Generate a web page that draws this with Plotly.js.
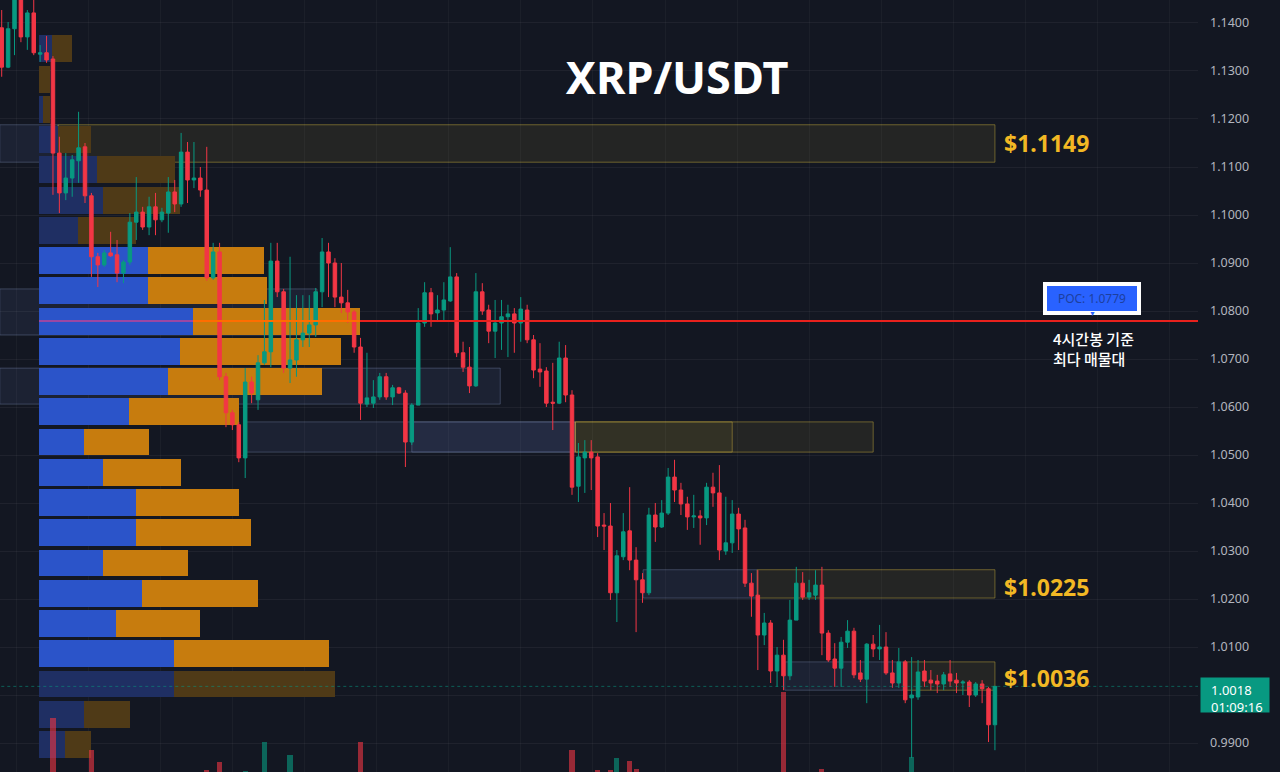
<!DOCTYPE html>
<html><head><meta charset="utf-8">
<script src="https://cdn.plot.ly/plotly-3.0.1.min.js"></script>
<style>html,body{margin:0;padding:0;background:#131722;}#chart{width:1280px;height:772px;}</style>
</head><body><div id="chart"></div>
<script>
// ---- Candles (4H) ----
const opens=[1.1390,1.1308,1.1388,1.1452,1.1371,1.1421,1.1335,1.1338,1.1325,1.1129,
1.1046,1.1077,1.1113,1.1142,1.1040,1.0913,1.0896,1.0921,1.0917,1.0879,
1.0902,1.0985,1.1006,1.0975,1.1017,1.0990,1.1004,1.1048,1.1023,1.1131,
1.1073,1.1077,1.1052,1.0869,1.0923,1.0663,1.0588,1.0563,1.0494,1.0652,
1.0615,1.0692,1.0715,1.0904,1.0840,1.0681,1.0698,1.0740,1.0754,1.0771,
1.0840,1.0923,1.0900,1.0829,1.0817,1.0798,1.0725,1.0606,1.0608,1.0621,
1.0663,1.0621,1.0640,1.0629,1.0527,1.0604,1.0775,1.0838,1.0796,1.0802,
1.0821,1.0871,1.0713,1.0683,1.0644,1.0840,1.0802,1.0758,1.0775,1.0788,
1.0794,1.0775,1.0802,1.0740,1.0679,1.0675,1.0610,1.0608,1.0702,1.0625,
1.0435,1.0494,1.0506,1.0496,1.0354,1.0352,1.0213,1.0288,1.0342,1.0281,
1.0240,1.0213,1.0375,1.0350,1.0379,1.0454,1.0427,1.0398,1.0371,1.0373,
1.0369,1.0433,1.0421,1.0300,1.0317,1.0377,1.0348,1.0233,1.0208,1.0125,
1.0150,1.0050,1.0083,1.0040,1.0156,1.0233,1.0204,1.0208,1.0229,1.0129,
1.0075,1.0056,1.0110,1.0133,1.0046,1.0033,1.0106,1.0096,1.0100,1.0046,
1.0025,1.0069,0.9994,0.9996,1.0050,1.0031,1.0029,1.0023,1.0044,1.0031,
1.0025,1.0027,1.0000,1.0023,1.0013,0.9938];
const highs=[1.1427,1.1402,1.1465,1.1460,1.1427,1.1448,1.1354,1.1373,1.1331,1.1163,
1.1129,1.1125,1.1215,1.1150,1.1046,1.0921,1.0927,1.0965,1.0948,1.0906,
1.1004,1.1079,1.1017,1.1038,1.1046,1.1015,1.1079,1.1073,1.1171,1.1152,
1.1152,1.1100,1.1142,1.0942,1.0942,1.0671,1.0594,1.0569,1.0681,1.0663,
1.0708,1.0823,1.0942,1.0942,1.0846,1.0913,1.0833,1.0833,1.0833,1.0848,
1.0952,1.0942,1.0910,1.0900,1.0844,1.0802,1.0744,1.0713,1.0656,1.0671,
1.0671,1.0646,1.0642,1.0635,1.0608,1.0806,1.0860,1.0848,1.0833,1.0860,
1.0933,1.0879,1.0736,1.0725,1.0879,1.0858,1.0813,1.0823,1.0823,1.0813,
1.0806,1.0829,1.0813,1.0750,1.0733,1.0683,1.0692,1.0736,1.0729,1.0635,
1.0525,1.0531,1.0531,1.0504,1.0379,1.0400,1.0302,1.0379,1.0433,1.0308,
1.0254,1.0390,1.0400,1.0406,1.0473,1.0490,1.0442,1.0413,1.0417,1.0385,
1.0442,1.0463,1.0479,1.0413,1.0406,1.0390,1.0365,1.0254,1.0260,1.0171,
1.0156,1.0100,1.0115,1.0198,1.0267,1.0256,1.0240,1.0260,1.0267,1.0135,
1.0108,1.0121,1.0156,1.0140,1.0073,1.0108,1.0125,1.0146,1.0131,1.0073,
1.0098,1.0073,1.0079,1.0073,1.0073,1.0052,1.0042,1.0048,1.0073,1.0046,
1.0031,1.0031,1.0027,1.0031,1.0017,1.0019];
const lows=[1.1288,1.1306,1.1333,1.1360,1.1344,1.1333,1.1319,1.1317,1.1042,1.1004,
1.1031,1.1038,1.1067,1.1025,1.0871,1.0850,1.0892,1.0913,1.0860,1.0858,
1.0896,1.0948,1.0969,1.0958,1.0958,1.0985,1.0963,1.1006,1.1017,1.1025,
1.1056,1.1038,1.0863,1.0865,1.0656,1.0558,1.0552,1.0485,1.0452,1.0608,
1.0594,1.0688,1.0683,1.0829,1.0671,1.0650,1.0663,1.0725,1.0725,1.0746,
1.0808,1.0829,1.0808,1.0796,1.0775,1.0713,1.0573,1.0600,1.0598,1.0615,
1.0615,1.0604,1.0627,1.0475,1.0521,1.0604,1.0767,1.0767,1.0777,1.0781,
1.0819,1.0704,1.0673,1.0629,1.0642,1.0792,1.0733,1.0702,1.0719,1.0704,
1.0713,1.0736,1.0733,1.0660,1.0642,1.0600,1.0552,1.0606,1.0610,1.0417,
1.0402,1.0421,1.0427,1.0329,1.0302,1.0198,1.0152,1.0281,1.0260,1.0131,
1.0192,1.0208,1.0319,1.0348,1.0375,1.0402,1.0375,1.0344,1.0348,1.0313,
1.0354,1.0392,1.0281,1.0292,1.0296,1.0302,1.0225,1.0163,1.0052,1.0104,
1.0025,1.0017,1.0010,1.0031,1.0156,1.0198,1.0198,1.0198,1.0083,1.0069,
1.0017,1.0017,1.0098,1.0035,1.0027,0.9983,1.0079,1.0073,1.0042,1.0015,
1.0015,0.9983,0.9869,0.9990,1.0017,1.0010,1.0004,1.0010,1.0017,1.0004,
1.0000,0.9975,0.9996,0.9983,0.9902,0.9885];
const closes=[1.1308,1.1388,1.1454,1.1371,1.1421,1.1338,1.1338,1.1323,1.1129,1.1046,
1.1077,1.1115,1.1140,1.1040,1.0913,1.0896,1.0921,1.0915,1.0879,1.0902,
1.0985,1.1006,1.0975,1.1017,1.0990,1.1006,1.1048,1.1023,1.1131,1.1073,
1.1077,1.1052,1.0869,1.0923,1.0663,1.0588,1.0563,1.0494,1.0652,1.0629,
1.0692,1.0715,1.0904,1.0840,1.0681,1.0698,1.0740,1.0754,1.0771,1.0840,
1.0923,1.0900,1.0829,1.0817,1.0798,1.0725,1.0608,1.0619,1.0621,1.0663,
1.0621,1.0640,1.0629,1.0527,1.0604,1.0775,1.0838,1.0794,1.0802,1.0823,
1.0871,1.0713,1.0683,1.0644,1.0840,1.0800,1.0758,1.0775,1.0788,1.0794,
1.0775,1.0804,1.0740,1.0677,1.0673,1.0608,1.0608,1.0702,1.0625,1.0433,
1.0496,1.0506,1.0494,1.0352,1.0352,1.0213,1.0290,1.0340,1.0281,1.0240,
1.0213,1.0375,1.0350,1.0379,1.0454,1.0427,1.0398,1.0371,1.0373,1.0369,
1.0433,1.0421,1.0302,1.0317,1.0377,1.0346,1.0233,1.0206,1.0125,1.0150,
1.0050,1.0083,1.0040,1.0156,1.0233,1.0204,1.0213,1.0229,1.0129,1.0073,
1.0056,1.0110,1.0133,1.0042,1.0033,1.0106,1.0096,1.0100,1.0046,1.0025,
1.0069,0.9990,1.0000,1.0048,1.0029,1.0025,1.0023,1.0042,1.0029,1.0025,
1.0027,1.0000,1.0023,1.0013,0.9938,1.0018];
const volumes=[28,24,30,26,22,27,14,18,47.0,36,
25,21,29,30,42.8,22,15,16,24,17,
31,33,18,22,20,13,26,19,35,30,
19,21,40.3,27,41.3,33,19,30,40.1,24,
29,43.9,38,27,36,42.2,26,18,17,25,
33,20,27,18,19,28,43.9,23,16,21,
20,15,11,35,22,38,29,24,16,19,
30,37,22,24,38,21,23,19,15,14,
16,18,22,27,18,26,25,31,27,42.8,
33,21,19,40.3,24,40.3,41.8,26,41.4,40.4,
22,36,20,17,29,23,18,19,15,17,
27,18,37,21,26,18,34,22,39,20,
35,24,50.4,37,32,19,14,17,40.4,26,
23,25,18,30,14,33,15,16,24,17,
22,28,41.9,26,16,12,11,14,13,12,
10,18,13,14,34,37];
const candleIndex=opens.map((_,i)=>i);

// ---- Volume profile (4H) ----
const vpPrice=[1.1346,1.1283,1.1220,1.1157,1.1094,1.1031,1.0968,1.0905,1.0842,1.0779,
1.0716,1.0653,1.0590,1.0527,1.0464,1.0401,1.0338,1.0275,1.0212,1.0149,
1.0086,1.0023,0.9960,0.9897];
const vpBuy=[1.3,0,0.4,1.9,5.8,6.4,3.9,10.9,10.9,15.4,
14.1,12.9,9.0,4.5,6.4,9.7,9.7,6.4,10.3,7.7,
13.5,13.5,4.5,2.6];
const vpSell=[2.0,1.1,0.7,3.3,7.8,7.7,5.8,11.6,11.9,16.7,
16.1,15.4,11.0,6.5,7.8,10.3,11.5,8.5,11.6,8.4,
15.5,16.1,4.6,2.6];
const pocPrice=1.0779, vaHigh=1.0905, vaLow=1.0086;

// ---- Zones ----
const zoneBottom=[1.1110,1.1110,1.0202,1.0202,1.0010,1.0010,1.0506,1.0506,1.0506,1.0506,1.0606,1.0750];
const zoneTop   =[1.1188,1.1188,1.0261,1.0261,1.0069,1.0069,1.0569,1.0569,1.0569,1.0569,1.0681,1.0846];
const zoneStart =[-0.3,8.8,100.1,117.9,122.2,140.7,38,64,89.5,89.5,-0.3,-0.3];
const zoneEnd   =[8.8,155,117.9,155,140.7,155,89.5,89.5,136,114,77.8,49.2];
const zoneKind  =['b','y','b','y','b','y','b','b','y','y','b','b'];
const levelLabels=[1.1149,1.0225,1.0036];
const levelLabelIdx=156.1;

// ---- Price axis ticks ----
const tickVals=[0.99,1.00,1.01,1.02,1.03,1.04,1.05,1.06,1.07,1.08,1.09,1.10,1.11,1.12,1.13,1.14];
const tickText=['0.9900','','1.0100','1.0200','1.0300','1.0400','1.0500','1.0600','1.0700','1.0800','1.0900','1.1000','1.1100','1.1200','1.1300','1.1400'];

const symbol='XRP/USDT';
const timer='01:09:16';

const UP='#089981', DN='#f23645';
const inVA=p=>p<=vaHigh+1e-9&&p>=vaLow-1e-9;

const traces=[
 {type:'bar',orientation:'h',x:vpBuy,y:vpPrice,xaxis:'x',yaxis:'y',width:0.0056,
  marker:{color:vpPrice.map(p=>inVA(p)?'#2b54c9':'#1f2f63'),line:{width:0}},hoverinfo:'skip'},
 {type:'bar',orientation:'h',x:vpSell,y:vpPrice,xaxis:'x',yaxis:'y',width:0.0056,
  marker:{color:vpPrice.map(p=>inVA(p)?'#c77c0e':'#4f3a17'),line:{width:0}},hoverinfo:'skip'},
 {type:'candlestick',x:candleIndex,open:opens,high:highs,low:lows,close:closes,xaxis:'x2',yaxis:'y',
  increasing:{line:{color:UP,width:1},fillcolor:UP},decreasing:{line:{color:DN,width:1},fillcolor:DN},
  whiskerwidth:0,hoverinfo:'skip'},
 {type:'bar',x:candleIndex,y:volumes,xaxis:'x2',yaxis:'y2',width:0.8,
  marker:{color:candleIndex.map(i=>closes[i]>=opens[i]?'rgba(8,153,129,0.6)':'rgba(242,54,69,0.6)'),line:{width:0}},hoverinfo:'skip'}
];

const shapes=[];
for(let k=0;k<zoneBottom.length;k++){
  const b=zoneKind[k]==='b';
  shapes.push({type:'rect',xref:'x2',yref:'y',x0:zoneStart[k],x1:zoneEnd[k],y0:zoneBottom[k],y1:zoneTop[k],layer:'below',
    fillcolor:b?'rgba(90,110,170,0.13)':'rgba(140,130,50,0.14)',
    line:{color:b?'rgba(130,145,185,0.35)':'rgba(190,165,60,0.5)',width:1}});
}
const pocRow=vpPrice.indexOf(pocPrice);
shapes.push({type:'line',xref:'x',yref:'y',x0:0,x1:vpBuy[pocRow],y0:pocPrice,y1:pocPrice,line:{color:'#9b47a3',width:2}});
shapes.push({type:'line',xref:'x',yref:'y',x0:vpBuy[pocRow],x1:vpBuy[pocRow]+vpSell[pocRow],y0:pocPrice,y1:pocPrice,line:{color:'#ff6d00',width:2}});
shapes.push({type:'line',xref:'x',yref:'y',x0:vpBuy[pocRow]+vpSell[pocRow],x1:300,y0:pocPrice,y1:pocPrice,line:{color:'#e8211d',width:2}});
const last=closes[closes.length-1];
shapes.push({type:'line',xref:'x2',yref:'y',x0:-1,x1:400,y0:last,y1:last,line:{color:'rgba(8,153,129,0.55)',width:1,dash:'dot'}});

const annotations=[];
levelLabels.forEach(v=>annotations.push({xref:'x2',yref:'y',x:levelLabelIdx,y:v,xanchor:'left',yanchor:'middle',showarrow:false,
  text:'$'+v.toFixed(4),font:{family:'Noto Sans',size:23,color:'#f2b824',weight:700}}));
annotations.push({xref:'x2',yref:'y',x:170.15,y:pocPrice,xanchor:'center',yanchor:'bottom',yshift:6,showarrow:false,
  text:'POC: '+pocPrice.toFixed(4),font:{family:'Noto Sans',size:12,color:'#1d3f9e'},bgcolor:'#2962ff',bordercolor:'#ffffff',borderwidth:4,borderpad:2,width:86,height:21});
annotations.push({xref:'x2',yref:'y',x:170.15,y:pocPrice,xanchor:'center',yanchor:'bottom',yshift:1,showarrow:false,
  text:'▼',font:{size:7,color:'#2962ff'}});
annotations.push({xref:'x2',yref:'y',x:163.75,y:pocPrice,xanchor:'left',yanchor:'top',yshift:-5,showarrow:false,align:'left',
  text:'4시간봉 기준<br>최다 매물대',font:{family:'Noto Sans CJK KR',size:15,color:'#ffffff',weight:500}});
// price tag background + text
annotations.push({xref:'paper',yref:'y',x:1.0017,y:last,xanchor:'left',yanchor:'top',yshift:9,showarrow:false,
  text:' ',bgcolor:'#089981',borderpad:0,width:68,height:34});
annotations.push({xref:'paper',yref:'y',x:1.0092,y:last,xanchor:'left',yanchor:'top',yshift:7,showarrow:false,align:'left',
  text:last.toFixed(4)+'<br>'+timer,font:{family:'Noto Sans',size:13,color:'#ffffff'}});

const layout={
  width:1280,height:772,margin:{l:0,r:82,t:0,b:0},
  paper_bgcolor:'#131722',plot_bgcolor:'#131722',
  showlegend:false,barmode:'stack',boxgap:0.22,
  title:{text:symbol,xref:'container',yref:'container',x:0.529,y:0.899,xanchor:'center',yanchor:'middle',
    font:{family:'Noto Sans',size:45,color:'#ffffff',weight:700}},
  xaxis:{range:[-3.9,115.9],visible:false,fixedrange:true},
  xaxis2:{overlaying:'x',anchor:'y',range:[-0.265,186.69],showgrid:true,gridcolor:'rgba(255,255,255,0.035)',
    tick0:2.27,dtick:11.25,showticklabels:false,zeroline:false,ticks:'',rangeslider:{visible:false},fixedrange:true},
  yaxis:{side:'right',range:[0.98396,1.14479],tickmode:'array',tickvals:tickVals,ticktext:tickText,showgrid:true,
    gridcolor:'rgba(255,255,255,0.05)',zeroline:false,ticks:'',ticklabelstandoff:11,
    tickfont:{family:'Noto Sans',size:12.5,color:'#b2b5be'},fixedrange:true},
  yaxis2:{overlaying:'y',range:[40,140],visible:false,fixedrange:true},
  shapes:shapes,annotations:annotations
};
Plotly.newPlot('chart',traces,layout,{displayModeBar:false,staticPlot:true});
</script></body></html>
